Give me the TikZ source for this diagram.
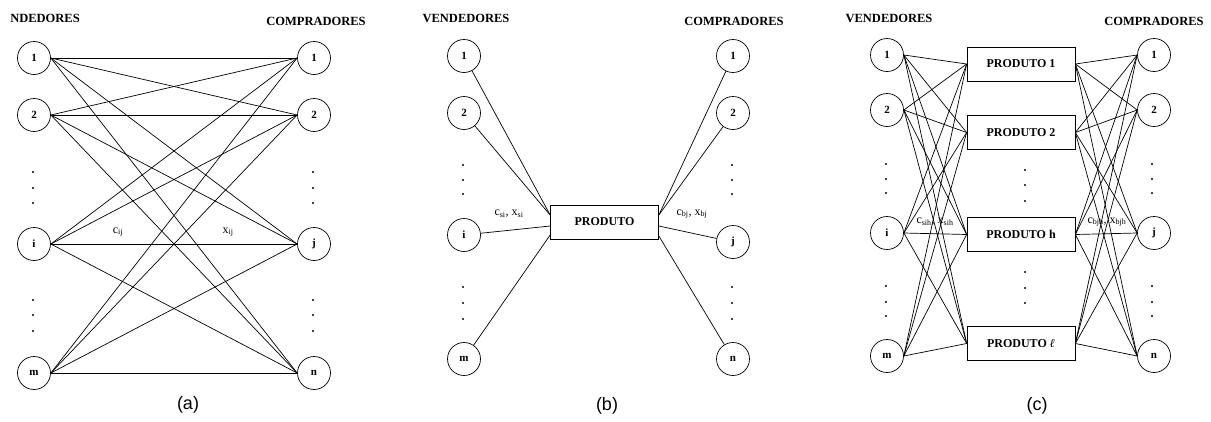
\documentclass[tikz,border=0pt]{standalone}
\usepackage{fontspec}
\setmainfont{Liberation Serif}
\newfontfamily\capfont{Liberation Sans}
\usetikzlibrary{calc}
\begin{document}
\begin{tikzpicture}[x=1pt,y=-1pt,
  vert/.style={circle, draw, line width=0.7pt, minimum size=33pt, inner sep=0pt, font=\bfseries\fontsize{11}{11}\selectfont},
  prod/.style={draw, line width=0.7pt, minimum width=108pt, minimum height=34pt, inner sep=0pt, font=\bfseries\fontsize{12}{12}\selectfont},
  hdr/.style={font=\bfseries\fontsize{12.5}{12.5}\selectfont, inner sep=0pt},
  captext/.style={font=\capfont\fontsize{18}{18}\selectfont, inner sep=0pt},
  lbl/.style={font=\fontsize{12}{12}\selectfont, inner sep=0pt},
  edge/.style={line width=0.7pt},
  vdot/.style={circle, fill, inner sep=0pt, minimum size=2.2pt}]
\useasboundingbox (0,0) rectangle (1211,421);

% ---------------- panel (a) ----------------
\node[hdr] (ha1) at (45,18) {NDEDORES};
\node[hdr] (ha2) at (316,21) {COMPRADORES};
\node[vert] (a1) at (34,58) {1};
\node[vert] (a2) at (34,115) {2};
\node[vert] (ai) at (34,244) {i};
\node[vert] (am) at (34,373) {m};
\node[vert] (b1) at (314,58) {1};
\node[vert] (b2) at (314,115) {2};
\node[vert] (bj) at (314,244) {j};
\node[vert] (bn) at (314,373) {n};
\foreach \s in {a1,a2,ai,am}{
  \foreach \t in {b1,b2,bj,bn}{
    \draw[edge] (\s.east) -- (\t.west);
  }
}
\foreach \x in {33,313}{
  \foreach \y in {172,188,203,300,315,331}{
    \node[vdot] at (\x,\y) {};
  }
}
\node[lbl] (cij) at (118,232) {c\textsubscript{ij}};
\node[lbl] (xij) at (228,232) {x\textsubscript{ij}};
\node[captext] (capa) at (188,405) {(a)};

% ---------------- panel (b) ----------------
\node[hdr] (hb1) at (466,18) {VENDEDORES};
\node[hdr] (hb2) at (734,21) {COMPRADORES};
\node[vert] (c1) at (464,56) {1};
\node[vert] (c2) at (464,113) {2};
\node[vert] (ci) at (464,235) {i};
\node[vert] (cm) at (464,359) {m};
\node[vert] (d1) at (733,56) {1};
\node[vert] (d2) at (733,113) {2};
\node[vert] (dj) at (733,242) {j};
\node[vert] (dn) at (733,359) {n};
\node[prod] (P) at (604.5,222) {PRODUTO};
\coordinate (Pw1) at ($(P.west)+(0,-7)$);
\coordinate (Pw2) at ($(P.west)+(0,4)$);
\coordinate (Pw3) at ($(P.west)+(0,13)$);
\coordinate (Pe1) at ($(P.east)+(0,-7)$);
\coordinate (Pe2) at ($(P.east)+(0,4)$);
\coordinate (Pe3) at ($(P.east)+(0,14)$);
\draw[edge] (c1) -- (Pw1);
\draw[edge] (c2) -- (Pw1);
\draw[edge] (ci) -- (Pw2);
\draw[edge] (cm) -- (Pw3);
\draw[edge] (d1) -- (Pe1);
\draw[edge] (d2) -- (Pe1);
\draw[edge] (dj) -- (Pe2);
\draw[edge] (dn) -- (Pe3);
\foreach \x in {463,732}{
  \foreach \y in {165,180,194,287,303,319}{
    \node[vdot] at (\x,\y) {};
  }
}
\node[lbl] (csi) at (509,214) {c\textsubscript{si}, x\textsubscript{si}};
\node[lbl] (cbj) at (692,214) {c\textsubscript{bj}, x\textsubscript{bj}};
\node[captext] (capb) at (607,406) {(b)};

% ---------------- panel (c) ----------------
\node[hdr] (hc1) at (889,18) {VENDEDORES};
\node[hdr] (hc2) at (1154,21) {COMPRADORES};
\node[vert] (e1) at (887,55) {1};
\node[vert] (e2) at (887,110) {2};
\node[vert] (ei) at (887,233) {i};
\node[vert] (em) at (887,356) {m};
\node[vert] (f1) at (1154,55) {1};
\node[vert] (f2) at (1154,110) {2};
\node[vert] (fj) at (1154,233) {j};
\node[vert] (fn) at (1154,356) {n};
\node[prod] (Q1) at (1021,64) {PRODUTO 1};
\node[prod] (Q2) at (1021,132.5) {PRODUTO 2};
\node[prod] (Qh) at (1021,234.5) {PRODUTO h};
\node[prod] (Ql) at (1021,343.5) {PRODUTO \textit{ℓ}};
\foreach \s in {e1,e2,ei,em}{
  \foreach \q in {Q1,Q2,Qh,Ql}{
    \draw[edge] (\s.east) -- (\q.west);
  }
}
\foreach \q in {Q1,Q2,Qh,Ql}{
  \foreach \t in {f1,f2,fj,fn}{
    \draw[edge] (\q.east) -- (\t.west);
  }
}
\foreach \x in {886,1152}{
  \foreach \y in {164,179,193,286,302,316}{
    \node[vdot] at (\x,\y) {};
  }
}
\foreach \y in {170,185,201,272,288,303}{
  \node[vdot] at (1025,\y) {};
}
\node[lbl] (csih) at (935,222) {c\textsubscript{sih}, x\textsubscript{sih}};
\node[lbl] (cbjh) at (1107,222) {c\textsubscript{bjh}, x\textsubscript{bjh}};
\node[captext] (capc) at (1037,406) {(c)};
\end{tikzpicture}
\end{document}
